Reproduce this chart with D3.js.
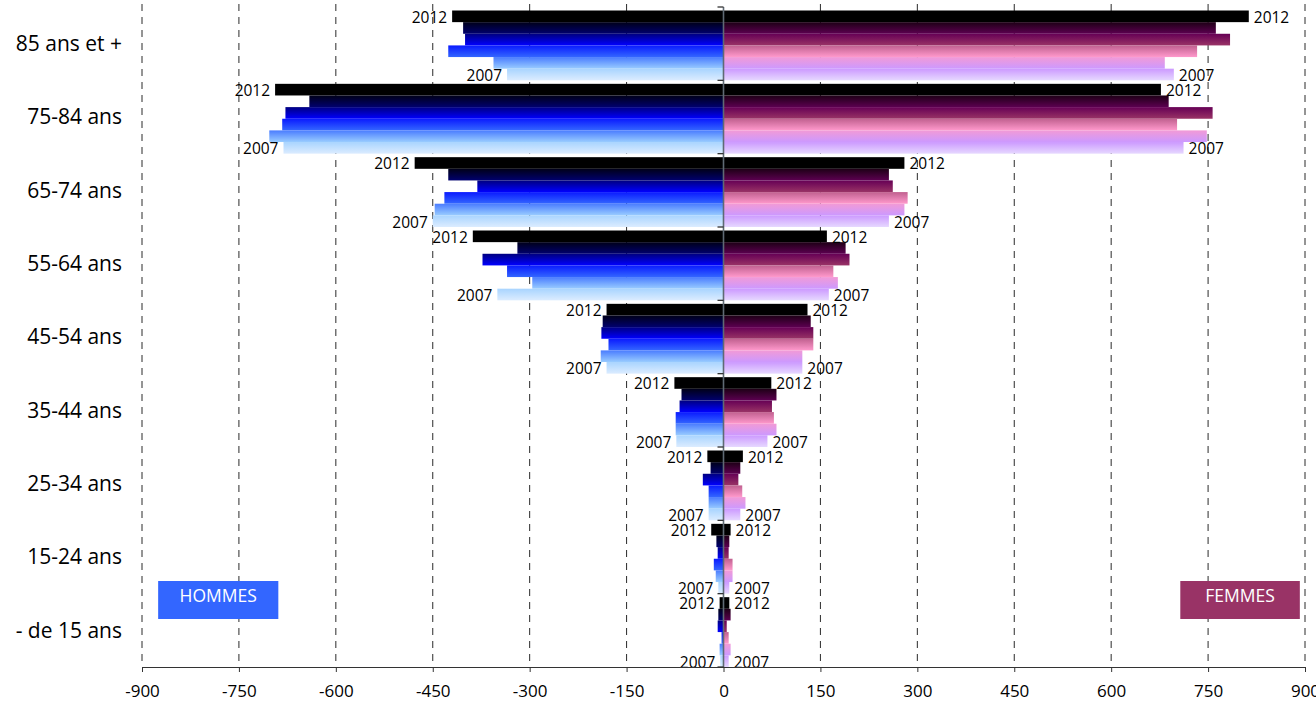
<!DOCTYPE html>
<html>
<head>
<meta charset="utf-8">
<script src="https://cdn.jsdelivr.net/npm/d3@7"></script>
<style>
  body { margin: 0; background: #fff; }
  svg { display: block; font-family: "Comic Sans MS", "Open Sans", sans-serif; }
</style>
</head>
<body>
<svg id="chart" width="1316" height="708"></svg>
<script>
// ---- DATA ----
const ageGroups = ["85 ans et +", "75-84 ans", "65-74 ans", "55-64 ans", "45-54 ans",
                   "35-44 ans", "25-34 ans", "15-24 ans", "- de 15 ans"];
const years = ["2012", "2011", "2010", "2009", "2008", "2007"];
// values per age group, in order of years (2012 ... 2007)
const hommes = [
  [420, 403, 400, 426, 356, 335],
  [694, 641, 678, 683, 703, 681],
  [478, 426, 381, 432, 447, 450],
  [388, 319, 373, 335, 296, 350],
  [181, 187, 189, 178, 190, 181],
  [76, 65, 68, 74, 74, 73],
  [25, 20, 32, 23, 23, 23],
  [19, 11, 9, 15, 12, 8],
  [6, 8, 9, 3, 6, 5]
];
const femmes = [
  [813, 762, 784, 733, 683, 697],
  [677, 689, 757, 702, 748, 712],
  [280, 256, 262, 285, 280, 256],
  [160, 189, 195, 170, 177, 163],
  [130, 135, 139, 139, 122, 122],
  [74, 82, 75, 78, 82, 68],
  [30, 26, 23, 29, 34, 26],
  [11, 9, 8, 14, 14, 9],
  [9, 11, 5, 8, 11, 8]
];
const xTicks = [-900, -750, -600, -450, -300, -150, 0, 150, 300, 450, 600, 750, 900];
const labeledYears = ["2012", "2007"];

// ---- STYLE ----
const menGrad = {
  "2012": ["#000000", "#000000"],
  "2011": ["#000018", "#00006e"],
  "2010": ["#000080", "#0000ff"],
  "2009": ["#0a1aff", "#3366ff"],
  "2008": ["#4a7cff", "#99ccff"],
  "2007": ["#a8d4ff", "#dcecff"]
};
const womenGrad = {
  "2012": ["#000000", "#000000"],
  "2011": ["#1e0016", "#5c0050"],
  "2010": ["#660055", "#993366"],
  "2009": ["#c0608f", "#ff99cc"],
  "2008": ["#f29ad6", "#cc99ff"],
  "2007": ["#cc99ff", "#e6d8ff"]
};

const svg = d3.select("#chart");
const x = d3.scaleLinear().domain([-900, 900]).range([142, 1305]);
const plotTop = 7, plotBottom = 667;
const y = d3.scaleBand().domain(ageGroups).range([plotTop, plotBottom]);
const inner = d3.scaleBand().domain(years).range([3.5, y.bandwidth()]);

// gradients
const defs = svg.append("defs");
function addGrad(prefix, g) {
  years.forEach(yr => {
    const lg = defs.append("linearGradient").attr("id", prefix + yr)
      .attr("x1", 0).attr("y1", 0).attr("x2", 0).attr("y2", 1);
    lg.append("stop").attr("offset", "0%").attr("stop-color", g[yr][0]);
    lg.append("stop").attr("offset", "100%").attr("stop-color", g[yr][1]);
  });
}
addGrad("h", menGrad);
addGrad("f", womenGrad);

// grid lines (dashed)
svg.append("g").selectAll("line")
  .data(xTicks.filter(t => t !== 0))
  .join("line")
  .attr("x1", d => x(d)).attr("x2", d => x(d))
  .attr("y1", 4).attr("y2", plotBottom)
  .attr("stroke", "#2a2a2a").attr("stroke-width", 1)
  .attr("stroke-dasharray", "7,6");

// bars
const rows = [];
ageGroups.forEach((a, i) => {
  years.forEach((yr, j) => {
    rows.push({ age: a, year: yr, h: hommes[i][j], f: femmes[i][j] });
  });
});

const barG = svg.append("g");
barG.selectAll("rect.h").data(rows).join("rect")
  .attr("class", "h")
  .attr("x", d => x(-d.h))
  .attr("width", d => x(0) - x(-d.h))
  .attr("y", d => y(d.age) + inner(d.year))
  .attr("height", inner.bandwidth())
  .attr("fill", d => `url(#h${d.year})`);
barG.selectAll("rect.f").data(rows).join("rect")
  .attr("class", "f")
  .attr("x", x(0))
  .attr("width", d => x(d.f) - x(0))
  .attr("y", d => y(d.age) + inner(d.year))
  .attr("height", inner.bandwidth())
  .attr("fill", d => `url(#f${d.year})`);

// year labels
const lab = rows.filter(d => labeledYears.includes(d.year));
const labG = svg.append("g").attr("font-size", 15.5).attr("fill", "#000");
labG.selectAll("text.h").data(lab).join("text")
  .attr("x", d => x(-d.h) - 5)
  .attr("y", d => y(d.age) + inner(d.year) + inner.bandwidth() / 2 + 1)
  .attr("dy", "0.35em")
  .attr("text-anchor", "end")
  .text(d => d.year);
labG.selectAll("text.f").data(lab).join("text")
  .attr("x", d => x(d.f) + 5)
  .attr("y", d => y(d.age) + inner(d.year) + inner.bandwidth() / 2 + 1)
  .attr("dy", "0.35em")
  .attr("text-anchor", "start")
  .text(d => d.year);

// central vertical axis with ticks
const cAxis = svg.append("g");
cAxis.append("line")
  .attr("x1", x(0)).attr("x2", x(0))
  .attr("y1", plotTop).attr("y2", plotBottom)
  .attr("stroke", "#5f6a74").attr("stroke-width", 1.6);
cAxis.selectAll("line.t")
  .data(ageGroups.map(a => y(a)).concat([plotBottom]))
  .join("line").attr("class", "t")
  .attr("x1", x(0) - 6).attr("x2", x(0))
  .attr("y1", d => d).attr("y2", d => d)
  .attr("stroke", "#333").attr("stroke-width", 1.3);

// category labels
svg.append("g").selectAll("text")
  .data(ageGroups).join("text")
  .attr("x", 122)
  .attr("y", d => y(d) + y.bandwidth() / 2)
  .attr("dy", "0.35em")
  .attr("text-anchor", "end")
  .attr("font-size", 21)
  .attr("fill", "#000")
  .text(d => d);

// bottom axis
const xAxis = d3.axisBottom(x).tickValues(xTicks).tickFormat(d => String(d))
  .tickSize(5).tickPadding(13).tickSizeOuter(0);
const gx = svg.append("g").attr("transform", `translate(0,${plotBottom})`).call(xAxis);
gx.select(".domain").attr("stroke", "#333").attr("stroke-width", 1.2);
gx.selectAll(".tick line").attr("stroke", "#333");
gx.selectAll(".tick text").attr("font-size", 17).attr("fill", "#000")
  .attr("font-family", "\"Comic Sans MS\", \"Open Sans\", sans-serif");

// legend boxes
const legends = [
  { label: "HOMMES", v0: -875, v1: -689, color: "#3366ff" },
  { label: "FEMMES", v0: 707, v1: 892, color: "#993366" }
];
const lg = svg.append("g");
legends.forEach(l => {
  lg.append("rect")
    .attr("x", x(l.v0)).attr("y", 581)
    .attr("width", x(l.v1) - x(l.v0)).attr("height", 38)
    .attr("fill", l.color);
  lg.append("text")
    .attr("x", (x(l.v0) + x(l.v1)) / 2).attr("y", 596)
    .attr("dy", "0.35em").attr("text-anchor", "middle")
    .attr("font-size", 17.5).attr("fill", "#fff")
    .text(l.label);
});
</script>
</body>
</html>
